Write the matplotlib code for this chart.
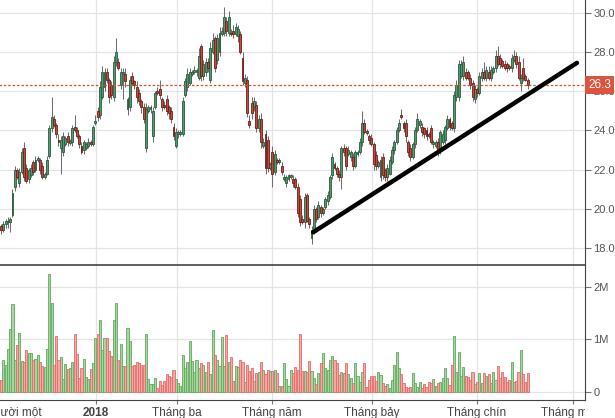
import numpy as np
import matplotlib
matplotlib.use("Agg")
import matplotlib.pyplot as plt
from matplotlib.transforms import Bbox, blended_transform_factory

plt.rcParams['font.family'] = ['Liberation Sans', 'DejaVu Sans']

# daily candles (trading-day index)
opens = [
    19.1, 18.9, 19.2, 19.3, 19.3, 19.7, 21.1, 22.0, 21.3, 21.9,
    23.1, 22.1, 21.5, 21.7, 22.4, 22.0, 22.5, 22.5, 22.2, 21.6,
    21.8, 22.7, 24.1, 24.6, 24.3, 23.5, 23.1, 22.9, 23.3, 23.7,
    23.35, 23.4, 24.2, 24.0, 23.7, 23.2, 23.0, 23.1, 23.2, 23.4,
    23.3, 24.4, 25.0, 24.8, 25.7, 26.2, 27.0, 26.6, 26.3, 25.7,
    27.5, 27.5, 26.3, 26.9, 26.9, 25.1, 25.2, 26.8, 26.5, 26.2,
    25.9, 25.5, 25.2, 23.1, 25.0, 25.1, 23.7, 25.2, 26.0, 26.1,
    25.6, 25.3, 25.6, 25.2, 25.0, 24.2, 23.2, 23.8, 23.8, 23.8,
    25.8, 26.2, 26.4, 26.9, 27.0, 27.0, 26.7, 28.3, 26.8, 27.0,
    27.5, 26.6, 28.0, 28.7, 27.6, 28.0, 28.9, 29.0, 29.6, 29.0,
    29.0, 29.1, 28.9, 28.8, 28.9, 27.7, 26.4, 26.6, 24.5, 25.4,
    25.2, 25.3, 24.1, 24.6, 23.2, 23.8, 23.5, 22.1, 22.9, 21.9,
    22.5, 22.4, 22.2, 21.5, 21.3, 21.5, 21.6, 21.5, 21.5, 21.1,
    20.5, 19.5, 19.3, 20.7, 19.5, 18.5, 18.9, 20.0, 19.6, 20.1,
    19.8, 20.1, 20.4, 20.6, 21.7, 22.3, 22.1, 21.8, 21.6, 23.1,
    23.1, 22.8, 22.65, 22.65, 22.2, 22.8, 22.9, 23.4, 24.4, 23.95,
    23.7, 23.6, 23.3, 22.75, 22.2, 21.6, 22.65, 22.0, 21.6, 21.8,
    22.4, 23.0, 23.4, 24.0, 24.8, 24.4, 24.4, 23.4, 23.1, 22.65,
    23.3, 24.0, 24.3, 24.2, 24.1, 24.0, 23.8, 24.1, 23.3, 23.2,
    23.4, 23.0, 23.4, 23.5, 24.1, 24.6, 24.4, 24.1, 25.7, 25.7,
    26.8, 26.8, 27.0, 27.0, 26.7, 26.4, 25.6, 26.1, 25.9, 26.7,
    27.0, 26.7, 27.0, 26.7, 27.0, 27.2, 27.8, 27.7, 27.55, 27.4,
    27.4, 27.3, 27.2, 27.6, 27.8, 27.5, 26.4, 27.2, 26.8, 26.6,
]
closes = [
    18.9, 19.2, 19.4, 19.4, 19.5, 20.8, 22.0, 21.6, 21.9, 22.9,
    21.6, 21.4, 22.0, 22.1, 21.9, 22.5, 22.6, 22.0, 21.6, 21.8,
    22.5, 24.1, 24.7, 24.3, 23.8, 23.4, 23.5, 23.7, 23.6, 23.4,
    23.45, 24.1, 24.0, 23.7, 23.3, 22.9, 23.4, 23.3, 23.4, 23.3,
    24.2, 24.5, 24.7, 26.2, 27.0, 27.0, 26.6, 25.7, 25.8, 27.5,
    28.0, 27.2, 27.0, 27.0, 26.5, 25.6, 26.6, 26.4, 26.3, 25.7,
    25.5, 25.2, 24.6, 25.1, 25.2, 25.2, 25.0, 25.9, 25.9, 25.8,
    25.2, 25.2, 25.0, 24.9, 24.6, 23.7, 23.9, 23.9, 23.9, 25.5,
    26.5, 26.9, 27.0, 27.0, 27.1, 27.1, 27.8, 26.8, 27.4, 27.5,
    27.2, 28.2, 28.6, 27.2, 28.7, 29.0, 29.1, 29.8, 29.1, 29.8,
    28.9, 28.9, 29.3, 29.2, 28.0, 26.5, 26.7, 24.9, 24.3, 24.9,
    25.5, 24.1, 24.6, 23.4, 23.4, 22.1, 22.1, 22.3, 21.8, 22.8,
    22.4, 22.5, 21.9, 21.6, 21.6, 21.7, 21.7, 21.3, 21.1, 19.8,
    19.3, 19.3, 20.6, 19.4, 19.2, 18.9, 20.0, 19.5, 20.2, 19.8,
    20.0, 20.5, 20.7, 21.6, 22.65, 22.1, 21.8, 21.6, 23.1, 22.9,
    22.2, 23.0, 22.9, 22.2, 22.9, 22.9, 23.4, 24.4, 23.9, 23.85,
    23.5, 23.3, 22.3, 22.2, 22.4, 22.5, 21.7, 21.6, 22.1, 22.5,
    23.0, 23.4, 24.0, 24.4, 24.7, 24.1, 23.7, 22.9, 22.65, 23.3,
    24.0, 24.6, 24.5, 23.9, 23.8, 23.7, 23.7, 23.4, 23.4, 23.4,
    22.9, 23.9, 23.8, 24.2, 24.6, 24.2, 24.1, 25.8, 26.3, 27.4,
    27.4, 27.5, 26.7, 26.7, 26.3, 25.7, 26.1, 25.9, 26.8, 27.0,
    26.7, 27.1, 26.7, 27.1, 27.2, 27.8, 27.4, 27.4, 27.3, 27.2,
    27.2, 27.2, 27.7, 27.8, 27.4, 26.7, 26.7, 26.7, 26.6, 26.3,
]
wick_hi = [
    0.1, 0.2, 0.1, 0.2, 0.1, 0.2, 0.2, 0.1, 0.2, 0.2,
    0.3, 0.2, 0.1, 0.2, 0.1, 0.2, 0.1, 0.1, 0.2, 0.1,
    0.2, 0.2, 1.0, 0.2, 0.1, 0.3, 0.2, 0.2, 0.1, 0.2,
    0.1, 0.2, 0.6, 0.2, 0.1, 0.2, 0.1, 0.1, 0.2, 0.1,
    0.1, 0.3, 0.2, 0.3, 0.3, 0.2, 0.2, 0.1, 0.2, 0.3,
    0.7, 0.2, 0.2, 0.2, 0.3, 0.1, 0.2, 0.2, 0.1, 0.3,
    0.2, 0.1, 0.2, 0.3, 0.1, 0.1, 0.2, 0.1, 0.2, 0.5,
    0.1, 0.2, 0.2, 0.1, 0.2, 0.2, 0.2, 0.1, 0.1, 0.2,
    0.2, 0.3, 0.2, 0.1, 0.2, 0.1, 0.4, 0.1, 0.2, 0.2,
    0.2, 0.3, 0.4, 0.1, 0.2, 0.3, 0.2, 0.5, 0.2, 0.3,
    0.2, 0.3, 0.2, 0.2, 0.2, 0.3, 0.2, 0.2, 0.3, 0.3,
    0.2, 0.2, 0.2, 0.3, 0.2, 0.2, 0.2, 0.1, 0.3, 0.2,
    0.1, 0.1, 0.2, 0.2, 0.1, 0.1, 0.1, 0.2, 0.1, 0.2,
    0.2, 0.2, 0.2, 0.1, 0.1, 0.2, 0.2, 0.1, 0.2, 0.1,
    0.1, 0.1, 0.2, 0.1, 0.2, 0.1, 0.1, 0.2, 0.1, 0.2,
    0.1, 0.2, 0.1, 0.2, 0.1, 0.1, 0.2, 0.6, 0.2, 0.1,
    0.1, 0.2, 0.1, 0.2, 0.1, 0.2, 0.2, 0.1, 0.2, 0.2,
    0.2, 0.1, 0.2, 0.2, 0.3, 0.1, 0.2, 0.1, 0.2, 0.1,
    0.2, 0.3, 0.1, 0.2, 0.1, 0.2, 0.1, 0.2, 0.1, 0.1,
    0.2, 0.1, 0.2, 0.1, 0.2, 0.1, 0.1, 0.2, 0.3, 0.2,
    0.2, 0.3, 0.2, 0.1, 0.2, 0.2, 0.2, 0.1, 0.2, 0.2,
    0.5, 0.2, 0.3, 0.2, 0.1, 0.3, 0.5, 0.2, 0.1, 0.2,
    0.1, 0.1, 0.2, 0.3, 0.2, 0.3, 0.2, 0.5, 0.1, 0.1,
]
wick_lo = [
    0.2, 0.1, 0.2, 0.3, 0.5, 0.1, 0.2, 0.1, 0.2, 0.1,
    0.2, 0.1, 0.2, 0.1, 0.2, 0.1, 0.1, 0.2, 0.1, 0.1,
    0.1, 0.1, 0.2, 0.1, 0.2, 0.2, 1.3, 0.2, 0.1, 0.2,
    0.1, 0.2, 0.1, 0.1, 0.2, 0.1, 0.2, 0.1, 0.1, 0.1,
    0.1, 0.1, 0.2, 0.2, 0.1, 0.2, 0.2, 0.3, 0.2, 0.2,
    0.2, 0.1, 0.2, 1.3, 0.3, 0.3, 0.2, 0.1, 0.2, 0.3,
    0.2, 0.3, 0.2, 0.2, 0.1, 0.2, 0.3, 0.1, 0.1, 0.2,
    0.2, 0.1, 0.2, 0.3, 0.2, 0.2, 0.1, 0.2, 0.1, 0.1,
    0.1, 0.2, 0.1, 0.1, 0.1, 0.2, 0.1, 0.3, 0.2, 0.2,
    0.2, 0.2, 0.1, 0.2, 0.2, 0.2, 0.1, 0.2, 0.3, 0.2,
    0.1, 0.2, 0.1, 0.3, 0.1, 0.2, 0.2, 0.2, 0.2, 0.3,
    0.2, 0.2, 0.2, 0.3, 0.1, 0.3, 0.2, 0.1, 0.7, 0.2,
    0.1, 0.1, 0.2, 0.1, 0.2, 0.1, 0.1, 0.2, 0.1, 0.2,
    0.2, 0.1, 0.3, 0.1, 0.2, 0.3, 0.2, 0.2, 0.1, 0.2,
    0.1, 0.1, 0.2, 0.1, 0.2, 0.1, 0.2, 0.2, 0.6, 0.2,
    0.2, 0.1, 0.2, 0.2, 0.1, 0.1, 0.1, 0.2, 0.1, 0.1,
    0.2, 0.1, 0.3, 0.2, 0.1, 0.2, 0.2, 0.2, 0.2, 0.1,
    0.1, 0.2, 0.1, 0.1, 0.1, 0.2, 0.3, 0.2, 0.2, 0.1,
    0.2, 0.1, 0.2, 0.2, 0.2, 0.2, 0.1, 0.1, 0.2, 0.1,
    0.2, 0.2, 0.1, 0.2, 0.1, 0.2, 0.1, 0.2, 0.2, 0.2,
    0.1, 0.2, 0.1, 0.1, 0.2, 0.2, 0.2, 0.2, 0.1, 0.2,
    0.1, 0.2, 0.1, 0.2, 0.1, 0.2, 0.1, 0.2, 0.1, 0.1,
    0.2, 0.1, 0.2, 0.1, 0.2, 0.1, 0.4, 0.2, 0.1, 0.2,
]
# volume in millions of shares
volumes = [
    0.22, 0.60, 0.50, 0.81, 1.19, 1.66, 0.60, 0.89, 1.11, 0.58,
    0.57, 0.79, 0.73, 0.73, 0.60, 0.63, 0.70, 0.57, 0.48, 0.46,
    0.81, 2.23, 1.68, 0.51, 1.05, 0.60, 0.65, 0.24, 0.52, 0.43,
    0.45, 0.56, 1.09, 0.71, 0.26, 0.44, 0.63, 0.28, 0.24, 0.43,
    0.55, 1.02, 1.09, 1.36, 0.79, 1.02, 1.02, 0.77, 0.67, 1.37,
    1.68, 0.60, 0.90, 0.48, 0.49, 1.22, 0.97, 0.49, 0.50, 0.56,
    0.54, 0.50, 0.50, 1.10, 0.24, 0.15, 0.15, 0.25, 0.07, 0.20,
    0.13, 0.20, 0.34, 0.30, 0.28, 0.42, 0.24,
    0.17, 0.10, 0.70, 0.45, 0.57, 0.97, 0.59, 0.38, 0.61, 0.44,
    0.54, 0.51, 0.38, 0.56, 0.34, 1.18, 0.70, 0.61, 0.48, 1.03,
    0.48, 1.08, 0.57, 0.65, 0.20, 0.49, 0.46, 0.61, 0.57, 0.19,
    0.51, 0.40, 0.44, 0.21, 0.35, 0.38, 0.57, 0.42, 0.34, 0.42,
    0.39, 0.40, 0.41, 0.36, 0.10, 0.10, 0.54, 0.24, 0.10, 0.41,
    0.35, 0.46, 0.42, 1.10, 0.40, 0.39, 0.38, 0.59, 0.40, 0.25,
    0.15, 0.35, 0.55, 0.74, 0.44, 0.42, 0.61, 0.68, 0.60, 0.55,
    0.32, 0.38, 0.36, 0.55, 0.34, 0.25, 0.16, 0.54,
    0.30,
    0.19, 0.38, 0.54, 0.08, 0.22, 0.30, 0.30, 0.20, 0.38, 0.32,
    0.17, 0.10, 0.14, 0.06, 0.22, 0.51, 0.75, 0.44, 0.33, 0.17,
    0.08, 0.06, 0.08, 0.35, 0.16, 0.08, 0.18, 0.06, 0.15, 0.08,
    0.18, 0.16, 0.24, 0.11, 0.16, 0.18, 0.25, 0.44, 0.25, 0.13,
    0.50, 1.06, 0.37, 0.75, 0.30, 0.46, 0.30, 0.28, 0.22, 0.37,
    0.15, 0.18, 0.35, 0.17, 0.35, 0.30, 0.33, 0.17, 0.37, 0.22,
    0.49, 0.25, 0.37, 0.28, 0.19, 0.22, 0.57, 0.19, 0.20, 0.37,
    0.80, 0.34, 0.19, 0.35,
]

month_pos = [-1.3, 41.2, 76.4, 117.7, 161.2, 206.8, 248.8]
month_labels = ['Tháng mười một', '2018', 'Tháng ba', 'Tháng năm',
                'Tháng bảy', 'Tháng chín', 'Tháng mười']
price_ticks = [18, 20, 22, 24, 26, 28, 30]
vol_ticks = [0, 1, 2]
vol_labels = ['0', '1M', '2M']
last_price = 26.3
trend_x = [135.7, 250.4]
trend_y = [18.8, 27.45]

o = np.array(opens)
c = np.array(closes)
hi = np.maximum(o, c) + np.array(wick_hi)
lo = np.minimum(o, c) - np.array(wick_lo)
vol = np.array(volumes)
idx = np.arange(len(o))
up = c >= o

W, H = 615, 418
fig = plt.figure(figsize=(W / 100, H / 100), dpi=100)
ax_p = fig.add_axes([-10 / W, 1 - 265 / H, 595 / W, 265 / H])
ax_v = fig.add_axes([-10 / W, 18 / H, 595 / W, 135 / H])
xlim = (-4.78, 253.9)

grid_c = '#e4e4e4'
axis_c = '#555555'
fs = 8

# candles
ax_p.vlines(idx, lo, hi, color='#6e6e6e', lw=0.75, zorder=2)
body = np.maximum(np.abs(c - o), 0.05)
ax_p.bar(idx[up], body[up], bottom=np.minimum(o, c)[up], width=0.85,
         color='#4f9a70', edgecolor='#2c5a3c', linewidth=0.6, zorder=3)
ax_p.bar(idx[~up], body[~up], bottom=np.minimum(o, c)[~up], width=0.85,
         color='#c4483c', edgecolor='#6a2018', linewidth=0.6, zorder=3)

ax_p.axhline(last_price, color='#c8553a', lw=0.9, ls=(0, (2, 1.5)), zorder=4)
ax_p.plot(trend_x, trend_y, color='black', lw=3.2, solid_capstyle='round', zorder=5)

ax_p.set_xlim(*xlim)
ax_p.set_ylim(17.13, 30.66)
ax_p.set_xticks(month_pos)
ax_p.tick_params(axis='x', length=0, labelbottom=False)
ax_p.yaxis.tick_right()
ax_p.set_yticks(price_ticks)
ax_p.set_yticklabels([f'{t:.1f}' for t in price_ticks])
ax_p.tick_params(axis='y', direction='out', length=4, width=0.8, color='#777777',
                 labelsize=fs, labelcolor=axis_c, pad=2)
ax_p.grid(True, color=grid_c, lw=0.9, zorder=0)
ax_p.set_axisbelow(True)
for s in ['left', 'top', 'bottom']:
    ax_p.spines[s].set_visible(False)
ax_p.spines['right'].set_color('#444444')

tr = blended_transform_factory(ax_p.transAxes, ax_p.transData)
ax_p.text(1.0 + 3 / 595, last_price, f'{last_price:.1f}', transform=tr,
          ha='left', va='center', color='white', fontsize=fs + 0.5, clip_on=False,
          bbox=dict(boxstyle='square,pad=0.25', fc='#d9553f', ec='none'), zorder=6)

# volume
ax_v.bar(idx[up], vol[up], width=0.9, color='#a3d79e', edgecolor='#62a860',
         linewidth=0.6, zorder=3)
ax_v.bar(idx[~up], vol[~up], width=0.9, color='#f7a6a3', edgecolor='#e26c6a',
         linewidth=0.6, zorder=3)
ax_v.set_xlim(*xlim)
ax_v.set_ylim(-0.16, 2.41)
ax_v.yaxis.tick_right()
ax_v.set_yticks(vol_ticks)
ax_v.set_yticklabels(vol_labels)
ax_v.tick_params(axis='y', direction='out', length=4, width=0.8, color='#777777',
                 labelsize=fs, labelcolor=axis_c, pad=2)
ax_v.set_xticks(month_pos)
ax_v.set_xticklabels(month_labels)
ax_v.tick_params(axis='x', direction='out', length=3, color='#777777',
                 labelsize=fs + 0.5, labelcolor='#444444', pad=2)
ax_v.grid(True, color=grid_c, lw=0.9, zorder=0)
ax_v.set_axisbelow(True)
ax_v.spines['left'].set_visible(False)
for s in ['top', 'bottom', 'right']:
    ax_v.spines[s].set_color('#444444')
ax_v.spines['top'].set_linewidth(1.2)

clip = Bbox.from_extents(0, 0, 585, H)
for i, t in enumerate(ax_v.get_xticklabels()):
    t.set_clip_box(clip)
    t.set_clip_on(True)
    if month_labels[i] == '2018':
        t.set_fontweight('bold')

fig.savefig('out.png', dpi=100)
